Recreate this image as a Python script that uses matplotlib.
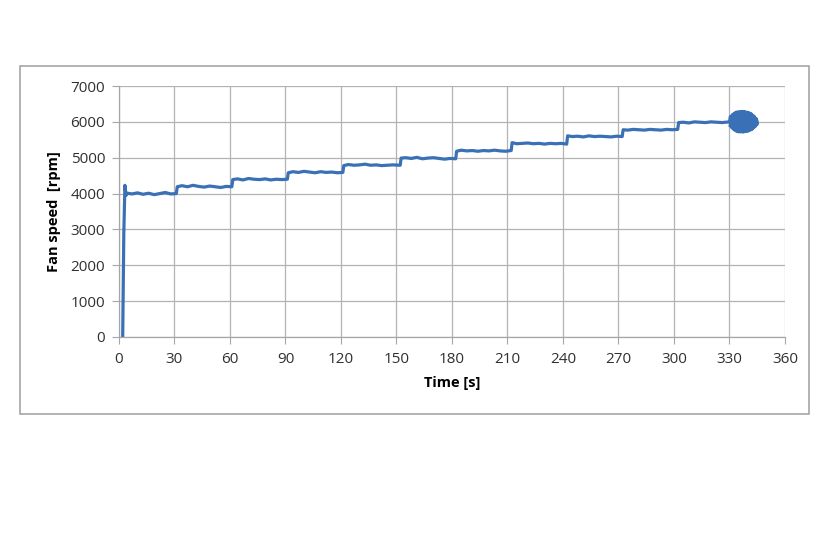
import matplotlib
matplotlib.use("Agg")
import matplotlib.pyplot as plt
from matplotlib.patches import Rectangle

# ---- data ----
time_s = [
    2, 2.6, 3.2, 3.8, 4.5, 7, 10, 13, 16, 19, 22, 25, 28, 31,
    31.5, 34, 37, 40, 43, 46, 49, 52, 55, 58, 61,
    61.5, 64, 67, 70, 73, 76, 79, 82, 85, 88, 91,
    91.5, 94, 97, 100, 103, 106, 109, 112, 115, 118, 121,
    121.5, 124, 127, 130, 133, 136, 139, 142, 145, 148, 152,
    152.5, 155, 158, 161, 164, 167, 170, 173, 176, 179, 182,
    182.5, 185, 188, 191, 194, 197, 200, 203, 206, 209, 212,
    212.5, 215, 218, 221, 224, 227, 230, 233, 236, 239, 242,
    242.5, 245, 248, 251, 254, 257, 260, 263, 266, 269, 272,
    272.5, 275, 278, 281, 284, 287, 290, 293, 296, 299, 302,
    302.5, 305, 308, 311, 314, 317, 320, 323, 326, 328, 330,
    330.5, 331, 331.5, 332, 332.5, 333, 333.5, 334, 334.5, 335,
    335.5, 336, 336.5, 337, 337.5, 338, 338.5, 339, 339.5, 340,
    340.5, 341, 341.5, 342, 342.5, 343, 343.5, 344, 344.5, 345,
    344.8, 344.2, 343.6, 343, 342.4, 341.8, 341.2, 340.6, 340, 339.4,
    338.8, 338.2, 337.6, 337, 336.4, 335.8, 335.2, 334.6, 334, 333.4,
    332.8, 332.2, 331.6, 331, 330.4,
]
fan_speed = [
    0, 2900, 4230, 3950, 4010, 3990, 4020, 3980, 4010, 3970, 4000, 4030, 3990, 4000,
    4190, 4220, 4190, 4230, 4200, 4180, 4210, 4190, 4170, 4200, 4190,
    4390, 4410, 4380, 4420, 4400, 4390, 4410, 4380, 4400, 4390, 4400,
    4580, 4610, 4590, 4620, 4600, 4580, 4610, 4590, 4600, 4580, 4590,
    4780, 4810, 4790, 4800, 4820, 4790, 4800, 4780, 4790, 4800, 4790,
    4990, 5000, 4980, 5010, 4970, 4990, 5000, 4980, 4960, 4980, 4970,
    5180, 5210, 5190, 5200, 5180, 5200, 5190, 5210, 5190, 5180, 5200,
    5420, 5390, 5400, 5410, 5390, 5400, 5380, 5400, 5390, 5400, 5380,
    5610, 5590, 5600, 5580, 5610, 5590, 5600, 5590, 5580, 5600, 5590,
    5780, 5770, 5790, 5780, 5770, 5790, 5780, 5770, 5790, 5780, 5790,
    5980, 5990, 5970, 6000, 5990, 5980, 6000, 5990, 5980, 5990, 6000,
    6150, 5850, 6200, 5800, 6240, 5760, 6270, 5730, 6280, 5720,
    6280, 5720, 6290, 5720, 6280, 5730, 6270, 5740, 6260, 5760,
    6240, 5780, 6220, 5800, 6180, 5840, 6140, 5880, 6080, 6000,
    5920, 6100, 5860, 6170, 5800, 6220, 5770, 6250, 5740, 6270,
    5730, 6280, 5720, 6280, 5730, 6270, 5740, 6250, 5760, 6230,
    5790, 6190, 5830, 6120, 5900,
]
x_ticks = [0, 30, 60, 90, 120, 150, 180, 210, 240, 270, 300, 330, 360]
y_ticks = [0, 1000, 2000, 3000, 4000, 5000, 6000, 7000]

plt.rcParams['font.family'] = ['Open Sans', 'DejaVu Sans']

fig = plt.figure(figsize=(8.37, 5.58), dpi=100)
fig.patches.append(Rectangle((20 / 837, 1 - 414 / 558), (809 - 20) / 837, (414 - 66) / 558,
                             transform=fig.transFigure, fill=False,
                             edgecolor='#a6a6a6', linewidth=1.2))
ax = fig.add_axes([119 / 837, 1 - 337 / 558, (785 - 119) / 837, (337 - 86) / 558])

ax.plot(time_s, fan_speed, color='#3a70b5', linewidth=2.3, solid_joinstyle='round')

ax.set_xlim(0, 360)
ax.set_ylim(0, 7000)
ax.set_xticks(x_ticks)
ax.set_yticks(y_ticks)
ax.grid(True, color='#b3b3b3', linewidth=0.9)
ax.set_axisbelow(True)
for s in ['top', 'right']:
    ax.spines[s].set_visible(False)
for s in ['left', 'bottom']:
    ax.spines[s].set_color('#a6a6a6')
    ax.spines[s].set_linewidth(0.9)
ax.tick_params(axis='x', direction='out', length=5, color='#a6a6a6', labelsize=11,
               labelcolor='#303030', pad=6)
ax.tick_params(axis='y', direction='out', length=5, color='#a6a6a6', labelsize=11,
               labelcolor='#303030', pad=5)
ax.set_xlabel('Time [s]', fontsize=10.5, fontweight='bold', labelpad=6)
ax.set_ylabel('Fan speed  [rpm]', fontsize=10.5, fontweight='bold', labelpad=7)

fig.savefig('out.png', dpi=100)
